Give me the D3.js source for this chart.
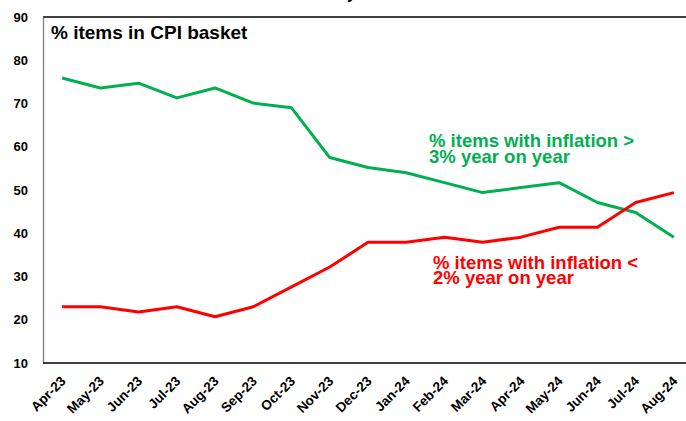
<!DOCTYPE html>
<html lang="en">
<head>
    <meta charset="UTF-8">
    <title>% items in CPI basket</title>
    <script src="https://cdnjs.cloudflare.com/ajax/libs/d3/7.8.5/d3.min.js"></script>
    <style>
        body {
            margin: 0;
            padding: 0;
            background: #fff;
            font-family: Arial, "Liberation Sans", sans-serif;
        }
        svg text {
            font-weight: bold;
        }
    </style>
</head>
<body>
    <div id="chart"></div>

    <script>
        // chart data
        const months = ['Apr-23', 'May-23', 'Jun-23', 'Jul-23', 'Aug-23', 'Sep-23', 'Oct-23', 'Nov-23',
            'Dec-23', 'Jan-24', 'Feb-24', 'Mar-24', 'Apr-24', 'May-24', 'Jun-24', 'Jul-24', 'Aug-24'];
        const above3 = [75.9, 73.6, 74.7, 71.3, 73.6, 70.1, 69.0, 57.5, 55.2, 54.0, 51.7, 49.4, 50.6, 51.7, 47.1, 44.8, 39.1];
        const below2 = [23.0, 23.0, 21.8, 23.0, 20.7, 23.0, 27.6, 32.2, 37.9, 37.9, 39.1, 37.9, 39.1, 41.4, 41.4, 47.1, 49.4];
        const yTicks = [10, 20, 30, 40, 50, 60, 70, 80, 90];

        const width = 686, height = 421;
        const margin = { top: 17, right: -7, bottom: 58, left: 43 };

        const svg = d3.select('#chart').append('svg')
            .attr('width', width)
            .attr('height', height);

        const x = d3.scalePoint()
            .domain(months)
            .range([margin.left, width - margin.right])
            .padding(0.5);

        const y = d3.scaleLinear()
            .domain([10, 90])
            .range([height - margin.bottom, margin.top]);

        // title, mostly above the visible area
        svg.append('text')
            .attr('x', 356)
            .attr('y', -1)
            .attr('text-anchor', 'end')
            .attr('font-size', 16)
            .text('Breadth of inflation - monthly');

        // top border
        svg.append('line')
            .attr('x1', margin.left).attr('x2', width)
            .attr('y1', y(90)).attr('y2', y(90))
            .attr('stroke', '#000').attr('stroke-width', 1.3);

        // y axis
        const yAxis = svg.append('g')
            .attr('transform', `translate(${margin.left},0)`)
            .call(d3.axisLeft(y).tickValues(yTicks).tickSize(0).tickPadding(15));
        yAxis.select('.domain').attr('stroke', '#7f7f7f').attr('stroke-width', 1.3);
        yAxis.selectAll('text')
            .attr('font-size', 13)
            .attr('font-family', 'Arial, "Liberation Sans", sans-serif')
            .attr('fill', '#000');

        // x axis
        const xAxis = svg.append('g')
            .attr('transform', `translate(0,${y(10)})`)
            .call(d3.axisBottom(x).tickSize(0).tickPadding(0));
        xAxis.select('.domain')
            .attr('d', `M${margin.left},0H${width}`)
            .attr('stroke', '#000').attr('stroke-width', 1.3);
        xAxis.selectAll('text')
            .attr('font-size', 13.5)
            .attr('font-family', 'Arial, "Liberation Sans", sans-serif')
            .attr('fill', '#000')
            .attr('text-anchor', 'end')
            .attr('dy', 0)
            .attr('transform', 'translate(4,19) rotate(-45)');

        // lines
        const line = d3.line()
            .x((d, i) => x(months[i]))
            .y(d => y(d));

        svg.append('path')
            .datum(above3)
            .attr('fill', 'none')
            .attr('stroke', '#00b050')
            .attr('stroke-width', 3)
            .attr('stroke-linejoin', 'round')
            .attr('d', line);

        svg.append('path')
            .datum(below2)
            .attr('fill', 'none')
            .attr('stroke', '#ff0000')
            .attr('stroke-width', 3)
            .attr('stroke-linejoin', 'round')
            .attr('d', line);

        // labels
        svg.append('text')
            .attr('x', 51).attr('y', 39)
            .attr('font-size', 19)
            .attr('fill', '#000')
            .text('% items in CPI basket');

        const greenLabel = svg.append('text')
            .attr('x', 429).attr('y', 147)
            .attr('font-size', 18.5)
            .attr('fill', '#00b050');
        greenLabel.append('tspan').attr('x', 429).text('% items with inflation >');
        greenLabel.append('tspan').attr('x', 429).attr('dy', 15.5).text('3% year on year');

        const redLabel = svg.append('text')
            .attr('x', 433).attr('y', 269)
            .attr('font-size', 18.5)
            .attr('fill', '#ff0000');
        redLabel.append('tspan').attr('x', 433).text('% items with inflation <');
        redLabel.append('tspan').attr('x', 433).attr('dy', 15).text('2% year on year');
    </script>
</body>
</html>
